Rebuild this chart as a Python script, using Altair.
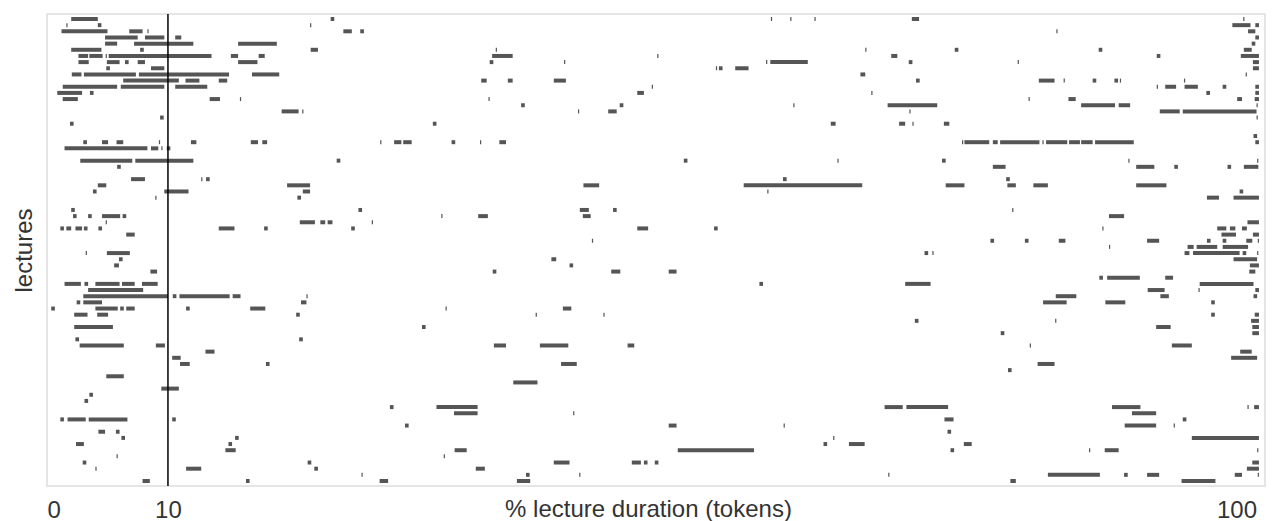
import altair as alt
import pandas as pd

# Each inner list = one lecture (row, top to bottom); tuples = (start %, end %) of a highlighted span
lectures_top = [
    [(2.0,4.2),(23.45,23.75),(59.85,59.95),(61.45,61.55),(63.45,63.55),(71.5,72.1),(98.9,99.0)],
    [(1.6,1.7),(4.2,4.5),(21.75,21.85),(98.0,99.5),(99.9,100.2)],
    [(1.2,5.0),(6.8,7.9),(8.3,8.4),(24.5,25.2),(25.9,26.2),(83.45,83.55),(99.3,99.9)],
    [(4.8,7.5),(8.1,9.7),(10.6,11.1),(99.9,100.2)],
    [(4.8,5.8),(7.2,12.1),(15.8,19.0),(99.6,99.9)],
    [(2.0,4.5),(7.7,8.0),(21.8,22.4),(37.1,37.2),(67.65,67.75),(75.05,75.35),(86.95,87.25),(98.95,99.6)],
    [(2.6,3.4),(3.5,4.6),(4.85,4.95),(5.1,13.6),(15.2,15.8),(17.5,18.0),(36.8,38.5),(50.45,50.55),(69.8,70.3),(91.75,92.05),(98.7,100.2)],
    [(2.6,3.45),(4.95,6.0),(6.45,6.75),(7.5,8.1),(15.8,17.4),(36.6,36.9),(42.75,42.85),(59.45,59.55),(59.8,62.9),(71.25,71.55),(80.25,80.35),(99.7,100.2)],
    [(4.9,5.2),(8.6,9.7),(55.3,55.4),(55.55,55.85),(56.9,58.0),(99.7,100.2)],
    [(2.05,2.85),(3.05,7.35),(7.6,15.05),(16.95,19.2),(67.25,67.65),(99.1,99.2)],
    [(6.3,10.9),(11.45,12.6),(14.2,14.9),(35.9,36.35),(38.1,38.5),(41.9,42.9),(71.85,72.15),(82.0,83.3),(84.05,84.15),(86.45,86.75),(88.25,88.55),(88.7,88.8),(94.0,94.1)],
    [(1.3,5.8),(6.1,9.7),(10.6,13.25),(50.0,50.1),(91.75,91.85),(92.45,93.35),(94.05,95.15),(97.2,97.5),(99.9,100.2)],
    [(0.85,2.9),(3.55,3.85),(48.8,49.35),(68.15,68.25),(95.85,96.15),(99.9,100.2)],
    [(1.3,2.55),(13.45,14.3),(15.95,16.05),(36.5,36.6),(81.15,81.25),(84.45,85.05),(98.4,98.8),(99.85,100.2)],
    [(39.2,39.5),(47.35,47.65),(61.7,61.8),(69.5,73.6),(85.5,88.3),(88.6,89.55),(100.0,100.1)],
    [(19.4,20.8),(21.1,21.2),(43.9,44.0),(46.4,47.1),(71.3,71.4),(92.0,93.65),(93.9,100.0)],
    [(9.35,9.65),(100.0,100.1)],
    [(1.9,2.2),(31.9,32.2),(64.8,65.2),(70.45,70.95),(71.55,71.65),(74.15,74.6)],
    [],
    [(99.75,100.05)],
    [(3.0,3.3),(4.55,5.05),(5.75,6.3),(9.25,9.35),(11.9,12.35),(16.85,17.45),(17.8,18.2),(27.55,27.65),(28.7,29.3),(29.45,30.15),(33.45,33.75),(35.8,35.9),(37.4,37.95),(75.65,75.75),(75.85,77.9),(78.2,78.6),(78.8,82.05),(82.3,82.4),(82.6,84.35),(84.5,85.4),(85.5,86.45),(86.65,89.85),(99.9,100.2)],
    [(1.45,8.3),(8.6,9.2),(9.45,9.55),(9.9,10.2)],
    [],
    [(2.75,7.05),(7.3,12.1),(23.95,24.25),(52.65,52.95),(65.35,65.45),(74.0,74.3),(89.4,89.5),(100.05,100.15)],
    [(5.8,6.1),(78.2,79.25),(90.05,91.55),(93.2,93.5),(97.6,97.9),(98.95,100.15)],
    [],
]

lectures_mid = [
    [(6.95,8.1),(12.75,12.85),(13.15,13.45),(60.85,61.15),(79.3,79.6)],
    [(4.2,4.9),(19.85,21.75),(44.35,45.65),(57.6,67.4),(74.3,75.85),(79.4,80.1),(81.55,82.75),(90.05,92.55)],
    [(3.8,4.1),(9.7,11.7),(21.15,21.75),(59.55,59.65),(98.6,98.9)],
    [(8.95,9.05),(20.7,21.0),(95.9,96.9),(98.1,100.2)],
    [],
    [(2.0,2.3),(25.75,26.05),(44.05,44.8),(46.8,47.1),(79.8,79.9)],
    [(2.15,2.45),(3.4,3.7),(4.55,6.05),(6.25,6.55),(32.6,32.7),(35.65,36.45),(44.3,44.95),(87.8,89.05)],
    [(4.85,4.95),(20.9,22.15),(22.6,23.0),(23.2,23.6),(26.85,26.95),(99.25,100.2)],
    [(1.1,1.4),(1.6,2.0),(2.35,2.9),(3.05,3.35),(4.25,4.55),(14.2,15.5),(17.95,18.25),(25.15,25.45),(48.8,49.7),(55.15,55.45),(87.25,87.35),(96.75,97.5),(97.8,98.25),(98.8,99.2)],
    [(6.55,7.25),(97.1,98.3),(99.7,100.2)],
    [(45.05,45.15),(78.0,78.3),(80.85,81.15),(83.65,84.2),(90.95,91.95),(95.9,96.2),(97.2,97.5),(99.15,99.65),(100.1,100.2)],
    [(87.8,87.9),(94.3,94.8),(95.05,96.75),(97.2,99.3)],
    [(3.2,3.3),(4.95,6.85),(72.55,72.85),(73.2,73.3),(94.05,94.45),(94.75,98.6),(98.85,99.15),(100.05,100.15)],
    [(5.95,6.25),(41.7,42.1),(98.1,100.05)],
    [(5.55,5.95),(43.2,43.5),(99.45,100.2)],
    [(8.55,9.1),(36.85,37.15),(46.65,47.4),(51.4,52.05),(99.4,99.9)],
    [(87.0,87.3),(87.65,90.35),(92.45,93.1)],
    [(1.45,2.8),(3.1,3.4),(4.0,6.0),(6.2,7.25),(7.85,9.15),(58.9,59.2),(70.95,73.05),(95.3,99.75)],
    [(3.4,7.95),(91.0,92.4),(95.2,95.3),(99.9,100.2)],
    [(3.0,10.0),(10.4,10.7),(10.95,15.1),(15.35,16.0),(21.45,21.55),(83.4,85.1),(92.05,92.75),(99.75,100.05)],
    [(2.45,2.75),(3.0,4.55),(21.0,21.45),(82.35,84.3),(87.5,89.15),(96.25,96.55)],
    [(0.35,0.65),(4.0,5.85),(6.05,6.35),(6.55,7.25),(11.5,11.8),(16.8,18.05),(32.95,33.05),(42.65,43.35)],
    [(2.25,3.35),(4.15,5.05),(20.6,20.9),(40.4,40.5),(46.0,46.1),(96.25,96.55),(99.85,100.2)],
    [(71.75,72.05),(83.35,83.45),(99.55,100.2)],
    [(2.25,5.45),(31.0,31.3),(91.7,92.9),(99.65,100.2)],
]

lectures_bottom = [
    [(78.85,79.15),(99.65,100.2)],
    [(2.35,2.65),(20.85,21.15)],
    [(2.7,6.35),(9.0,9.75),(36.95,37.95),(40.75,43.1),(48.0,48.55),(81.25,81.35),(93.0,94.65)],
    [(13.1,13.85),(98.65,99.6)],
    [(10.35,11.05),(97.9,100.05)],
    [(11.0,11.8),(18.1,18.4),(42.5,43.8),(81.9,83.3)],
    [(79.45,79.75)],
    [(4.9,6.35)],
    [(38.55,40.55)],
    [(9.45,10.9)],
    [(3.5,3.8)],
    [(3.1,3.4)],
    [(28.35,28.65),(32.2,35.6),(69.25,70.75),(71.05,74.5),(88.05,90.4),(99.25,99.35),(99.8,100.2)],
    [(33.65,35.6),(43.5,43.6),(89.7,91.7)],
    [(1.1,1.4),(1.7,3.2),(3.45,6.65),(10.35,10.65),(74.2,74.95),(93.9,94.2)],
    [(29.6,29.9),(51.4,52.05),(60.9,61.0),(89.1,91.7),(93.15,93.25)],
    [(4.25,4.8),(5.7,6.0),(74.45,74.75)],
    [(6.15,6.45),(15.55,15.85),(65.0,65.1),(94.65,100.2)],
    [(2.4,3.05),(15.0,15.3),(64.2,64.5),(66.3,67.6),(75.8,76.45)],
    [(14.75,15.6),(33.7,34.7),(52.15,58.45),(74.7,75.0),(86.15,86.25),(87.45,88.6),(100.05,100.15)],
    [(5.75,5.85),(32.8,32.9)],
    [(2.95,3.25),(21.55,21.85),(41.9,43.2),(48.35,49.1),(49.35,49.65),(50.25,50.55),(99.65,100.2)],
    [(4.0,4.1),(11.5,12.75),(22.1,22.4),(35.45,36.2),(99.2,100.2)],
    [(26.0,26.1),(39.6,39.9),(44.0,44.1),(69.55,69.65),(82.75,87.05),(89.05,89.35),(90.95,91.95),(98.2,98.8),(100.1,100.2)],
    [(7.9,8.5),(16.45,16.75),(27.5,28.2),(38.85,39.95),(79.65,80.1),(93.8,96.6)],
]

x_ticks = [0, 10, 100]
marker_pct = [10]
n_lectures = 76

rows = []
for i, spans in enumerate(lectures_top + lectures_mid + lectures_bottom):
    for s, e in spans:
        rows.append({"lecture": i, "start": s, "end": e})
df = pd.DataFrame(rows)
marker_df = pd.DataFrame({"pos": marker_pct})

FONT = "Liberation Sans"

x_scale = alt.Scale(domain=[0, 100.7], nice=False, zero=False)

segments = alt.Chart(df).mark_rule(color="#555555", strokeWidth=4).encode(
    x=alt.X(
        "start:Q",
        scale=x_scale,
        axis=alt.Axis(
            values=x_ticks,
            grid=False,
            ticks=False,
            domain=False,
            labelFlush=15,
            labelFontSize=24,
            labelColor="#333333",
            labelFont=FONT,
            labelPadding=12,
            title="% lecture duration (tokens)",
            titleFontSize=24,
            titleFont=FONT,
            titleFontWeight="normal",
            titleColor="#333333",
            titleY=30,
            titleX=601,
            titleBaseline="alphabetic",
        ),
    ),
    x2="end:Q",
    y=alt.Y(
        "lecture:Q",
        scale=alt.Scale(domain=[-0.81, n_lectures - 1 + 0.81], reverse=True, nice=False, zero=False),
        axis=alt.Axis(
            labels=False,
            ticks=False,
            domain=False,
            grid=False,
            title="lectures",
            titleFontSize=24,
            titleFont=FONT,
            titleFontWeight="normal",
            titleColor="#333333",
            titleX=-16,
            titleBaseline="alphabetic",
        ),
    ),
)

marker = alt.Chart(marker_df).mark_rule(color="black", strokeWidth=1.5).encode(
    x=alt.X("pos:Q", scale=x_scale)
)

chart = (
    alt.layer(segments, marker)
    .properties(
        width=1218,
        height=472,
        padding={"left": 47, "top": 14, "right": 7, "bottom": 35},
        autosize="none",
        background="white",
    )
    .configure_view(stroke="#dddddd", strokeWidth=1.5)
)

chart.save("out.html", embed_options={"renderer": "svg", "actions": False})
